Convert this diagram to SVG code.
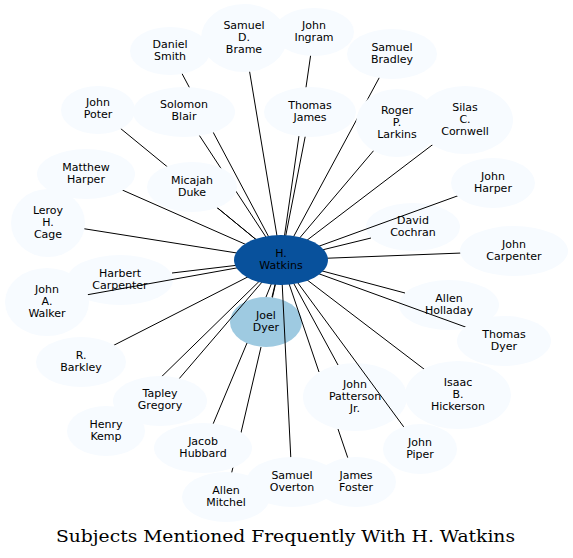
<svg xmlns="http://www.w3.org/2000/svg" width="573" height="558" viewBox="0 0 573 558">
<style>
.n{fill:#f7fbff;stroke:none}
.c{fill:#08519c;stroke:none}
.j{fill:#9ecae1;stroke:none}
text{font-family:"DejaVu Sans",sans-serif;font-size:11px;fill:#000;text-anchor:middle}
.e path{fill:none;stroke:#000;stroke-width:1}
.t{font-family:"DejaVu Serif","Liberation Serif",serif;font-size:17px}
</style>
<rect width="573" height="558" fill="#fff"/>
<g id="n-harbert-carpenter"><ellipse class="n" cx="120" cy="280" rx="53" ry="25"/><text x="120" y="277">Harbert</text><text x="120" y="289">Carpenter</text></g>
<g id="n-allen-holladay"><ellipse class="n" cx="449" cy="305" rx="50" ry="25"/><text x="449" y="302">Allen</text><text x="449" y="314">Holladay</text></g>
<g id="n-john-patterson-jr"><ellipse class="n" cx="355" cy="397" rx="52" ry="34"/><text x="355" y="388">John</text><text x="355" y="400">Patterson</text><text x="355" y="412">Jr.</text></g>
<g id="n-david-cochran"><ellipse class="n" cx="413" cy="227" rx="47" ry="24"/><text x="413" y="224">David</text><text x="413" y="236">Cochran</text></g>
<g id="n-joel-dyer"><ellipse class="j" cx="266" cy="322" rx="36" ry="25"/><text x="266" y="319">Joel</text><text x="266" y="331">Dyer</text></g>
<g id="connectors" class="e">
<path d="M281,260L244,38"/>
<path d="M281,260L170,51"/>
<path d="M281,260L314,32"/>
<path d="M281,260L392,54"/>
<path d="M281,260L98,110"/>
<path d="M281,260L184,112"/>
<path d="M281,260L310,112"/>
<path d="M281,260L397,123"/>
<path d="M281,260L465,120"/>
<path d="M281,260L493,183"/>
<path d="M281,260L86,174"/>
<path d="M281,260L192,187"/>
<path d="M281,260L48,223"/>
<path d="M281,260L371,238"/>
<path d="M281,260L514,251"/>
<path d="M281,260L172,273"/>
<path d="M281,260L47,302"/>
<path d="M281,260L405,293"/>
<path d="M281,260L504,341"/>
<path d="M281,260L272,297"/>
<path d="M281,260L81,362"/>
<path d="M281,260L160,401"/>
<path d="M281,260L106,431"/>
<path d="M281,260L266,297M247,343L203,448"/>
<path d="M281,260L272.4,297.5M261,347L226,497"/>
<path d="M281,260L292,482"/>
<path d="M281,260L319,372M338,429L356,482"/>
<path d="M281,260L338,365"/>
<path d="M281,260L458,395"/>
<path d="M281,260L420,449"/>
</g>
<g id="n-samuel-d-brame"><ellipse class="n" cx="244" cy="38" rx="43" ry="34"/><text x="244" y="29">Samuel</text><text x="244" y="41">D.</text><text x="244" y="53">Brame</text></g>
<g id="n-daniel-smith"><ellipse class="n" cx="170" cy="51" rx="40" ry="24"/><text x="170" y="48">Daniel</text><text x="170" y="60">Smith</text></g>
<g id="n-john-ingram"><ellipse class="n" cx="314" cy="32" rx="40" ry="24"/><text x="314" y="29">John</text><text x="314" y="41">Ingram</text></g>
<g id="n-samuel-bradley"><ellipse class="n" cx="392" cy="54" rx="45" ry="25"/><text x="392" y="51">Samuel</text><text x="392" y="63">Bradley</text></g>
<g id="n-john-poter"><ellipse class="n" cx="98" cy="110" rx="37" ry="24"/><text x="98" y="106">John</text><text x="98" y="118">Poter</text></g>
<g id="n-solomon-blair"><ellipse class="n" cx="184" cy="112" rx="51" ry="25"/><text x="184" y="108">Solomon</text><text x="184" y="120">Blair</text></g>
<g id="n-thomas-james"><ellipse class="n" cx="310" cy="112" rx="46" ry="25"/><text x="310" y="109">Thomas</text><text x="310" y="121">James</text></g>
<g id="n-roger-p-larkins"><ellipse class="n" cx="397" cy="123" rx="41" ry="34"/><text x="397" y="114">Roger</text><text x="397" y="126">P.</text><text x="397" y="138">Larkins</text></g>
<g id="n-silas-c-cornwell"><ellipse class="n" cx="465" cy="120" rx="48" ry="34"/><text x="465" y="111">Silas</text><text x="465" y="123">C.</text><text x="465" y="135">Cornwell</text></g>
<g id="n-john-harper"><ellipse class="n" cx="493" cy="183" rx="42" ry="25"/><text x="493" y="180">John</text><text x="493" y="192">Harper</text></g>
<g id="n-matthew-harper"><ellipse class="n" cx="86" cy="174" rx="49" ry="25"/><text x="86" y="171">Matthew</text><text x="86" y="183">Harper</text></g>
<g id="n-micajah-duke"><ellipse class="n" cx="192" cy="187" rx="45" ry="25"/><text x="192" y="184">Micajah</text><text x="192" y="196">Duke</text></g>
<g id="n-leroy-h-cage"><ellipse class="n" cx="48" cy="223" rx="37" ry="34"/><text x="48" y="214">Leroy</text><text x="48" y="226">H.</text><text x="48" y="238">Cage</text></g>
<g id="n-john-carpenter"><ellipse class="n" cx="514" cy="251" rx="54" ry="25"/><text x="514" y="248">John</text><text x="514" y="260">Carpenter</text></g>
<g id="n-john-a-walker"><ellipse class="n" cx="47" cy="302" rx="42" ry="34"/><text x="47" y="293">John</text><text x="47" y="305">A.</text><text x="47" y="317">Walker</text></g>
<g id="n-thomas-dyer"><ellipse class="n" cx="504" cy="341" rx="47" ry="25"/><text x="504" y="338">Thomas</text><text x="504" y="350">Dyer</text></g>
<g id="n-r-barkley"><ellipse class="n" cx="81" cy="362" rx="45" ry="25"/><text x="81" y="359">R.</text><text x="81" y="371">Barkley</text></g>
<g id="n-tapley-gregory"><ellipse class="n" cx="160" cy="401" rx="47" ry="25"/><text x="160" y="397">Tapley</text><text x="160" y="409">Gregory</text></g>
<g id="n-henry-kemp"><ellipse class="n" cx="106" cy="431" rx="39" ry="25"/><text x="106" y="428">Henry</text><text x="106" y="440">Kemp</text></g>
<g id="n-jacob-hubbard"><ellipse class="n" cx="203" cy="448" rx="49" ry="25"/><text x="203" y="445">Jacob</text><text x="203" y="457">Hubbard</text></g>
<g id="n-allen-mitchel"><ellipse class="n" cx="226" cy="497" rx="44" ry="25"/><text x="226" y="494">Allen</text><text x="226" y="506">Mitchel</text></g>
<g id="n-samuel-overton"><ellipse class="n" cx="292" cy="482" rx="46" ry="25"/><text x="292" y="479">Samuel</text><text x="292" y="491">Overton</text></g>
<g id="n-james-foster"><ellipse class="n" cx="356" cy="482" rx="40" ry="25"/><text x="356" y="479">James</text><text x="356" y="491">Foster</text></g>
<g id="n-isaac-b-hickerson"><ellipse class="n" cx="458" cy="395" rx="53" ry="34"/><text x="458" y="386">Isaac</text><text x="458" y="398">B.</text><text x="458" y="410">Hickerson</text></g>
<g id="n-john-piper"><ellipse class="n" cx="420" cy="449" rx="37" ry="25"/><text x="420" y="446">John</text><text x="420" y="458">Piper</text></g>
<g id="n-h-watkins"><ellipse class="c" cx="281" cy="260" rx="47" ry="25"/><text x="281" y="257">H.</text><text x="281" y="269">Watkins</text></g>
<text class="t" x="285.5" y="542" textLength="459" lengthAdjust="spacingAndGlyphs">Subjects Mentioned Frequently With H. Watkins</text>
</svg>
